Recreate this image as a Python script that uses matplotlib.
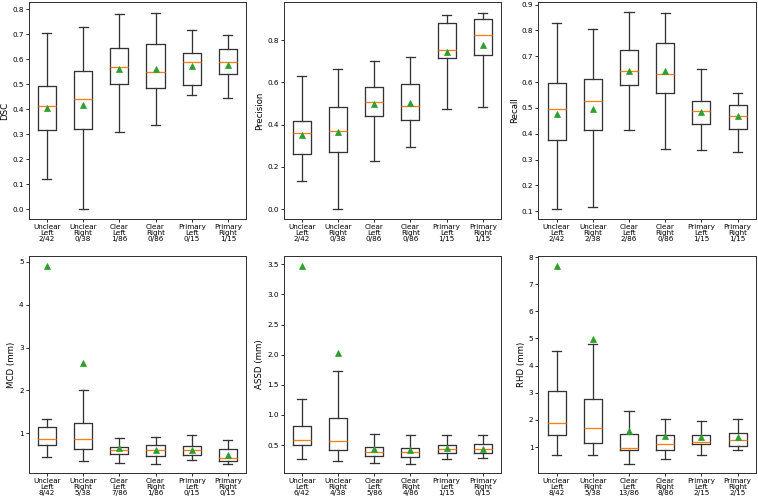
#!/usr/bin/env python3

import matplotlib
matplotlib.use('Agg')
import matplotlib.pyplot as plt

groups = ['Unclear\nLeft', 'Unclear\nRight', 'Clear\nLeft', 'Clear\nRight', 'Primary\nLeft', 'Primary\nRight']

# outlier counts shown under each group
dsc_counts  = ['2/42', '0/38', '1/86', '0/86', '0/15', '1/15']
prec_counts = ['2/42', '0/38', '0/86', '0/86', '1/15', '1/15']
rec_counts  = ['2/42', '2/38', '2/86', '0/86', '1/15', '1/15']
mcd_counts  = ['8/42', '5/38', '7/86', '1/86', '0/15', '0/15']
assd_counts = ['6/42', '4/38', '5/86', '4/86', '1/15', '0/15']
rhd_counts  = ['8/42', '5/38', '13/86', '8/86', '2/15', '2/15']

# per group: whisker low, q1, median, q3, whisker high, mean
dsc_lo   = [0.12, 0.00, 0.31, 0.338, 0.458, 0.445]
dsc_q1   = [0.318, 0.322, 0.50, 0.484, 0.497, 0.540]
dsc_med  = [0.415, 0.44, 0.568, 0.551, 0.591, 0.589]
dsc_q3   = [0.492, 0.553, 0.646, 0.663, 0.626, 0.643]
dsc_hi   = [0.707, 0.73, 0.78, 0.787, 0.718, 0.698]
dsc_mean = [0.405, 0.418, 0.563, 0.563, 0.574, 0.576]

prec_lo   = [0.133, 0.0, 0.227, 0.293, 0.473, 0.484]
prec_q1   = [0.263, 0.268, 0.44, 0.422, 0.715, 0.73]
prec_med  = [0.358, 0.37, 0.506, 0.49, 0.754, 0.824]
prec_q3   = [0.418, 0.482, 0.578, 0.594, 0.88, 0.90]
prec_hi   = [0.63, 0.664, 0.703, 0.718, 0.92, 0.93]
prec_mean = [0.352, 0.366, 0.499, 0.501, 0.745, 0.775]

rec_lo   = [0.11, 0.115, 0.414, 0.342, 0.336, 0.33]
rec_q1   = [0.375, 0.414, 0.59, 0.558, 0.436, 0.42]
rec_med  = [0.497, 0.527, 0.642, 0.633, 0.487, 0.469]
rec_q3   = [0.597, 0.612, 0.724, 0.75, 0.527, 0.513]
rec_hi   = [0.828, 0.806, 0.871, 0.869, 0.652, 0.558]
rec_mean = [0.478, 0.495, 0.644, 0.644, 0.483, 0.467]

mcd_lo   = [0.44, 0.35, 0.31, 0.29, 0.38, 0.27]
mcd_q1   = [0.73, 0.62, 0.52, 0.46, 0.49, 0.35]
mcd_med  = [0.86, 0.87, 0.60, 0.60, 0.60, 0.43]
mcd_q3   = [1.15, 1.23, 0.68, 0.72, 0.70, 0.62]
mcd_hi   = [1.33, 2.00, 0.88, 0.91, 0.95, 0.85]
mcd_mean = [4.90, 2.63, 0.66, 0.61, 0.60, 0.48]

assd_lo   = [0.26, 0.24, 0.20, 0.19, 0.27, 0.28]
assd_q1   = [0.50, 0.41, 0.32, 0.30, 0.37, 0.36]
assd_med  = [0.58, 0.57, 0.38, 0.39, 0.44, 0.44]
assd_q3   = [0.81, 0.95, 0.47, 0.45, 0.50, 0.52]
assd_hi   = [1.27, 1.73, 0.69, 0.67, 0.67, 0.67]
assd_mean = [3.48, 2.03, 0.43, 0.41, 0.45, 0.44]

rhd_lo   = [0.70, 0.70, 0.38, 0.55, 0.70, 0.88]
rhd_q1   = [1.43, 1.15, 0.88, 0.88, 1.10, 1.04]
rhd_med  = [1.89, 1.71, 0.97, 1.12, 1.18, 1.26]
rhd_q3   = [3.07, 2.77, 1.48, 1.43, 1.45, 1.50]
rhd_hi   = [4.55, 4.80, 2.33, 2.02, 1.96, 2.02]
rhd_mean = [7.68, 4.98, 1.60, 1.41, 1.37, 1.36]


def stats(lo, q1, med, q3, hi, mean):
    return [dict(whislo=a, q1=b, med=c, q3=d, whishi=e, mean=f, fliers=[])
            for a, b, c, d, e, f in zip(lo, q1, med, q3, hi, mean)]


def draw(ax, st, counts, ylabel, ylim, yticks):
    lw = 1.8
    ax.bxp(st, showmeans=True, showfliers=False,
           boxprops=dict(linewidth=lw, color='#333333'),
           whiskerprops=dict(linewidth=lw, color='#333333'),
           capprops=dict(linewidth=lw, color='#333333'),
           medianprops=dict(linewidth=lw, color='C1'),
           meanprops=dict(marker='^', markersize=7, markerfacecolor='C2', markeredgecolor='C2'))
    ax.set_xticks(range(1, 7))
    ax.set_xticklabels([g + '\n' + c for g, c in zip(groups, counts)], linespacing=1.0)
    ax.set_ylabel(ylabel, fontsize=12)
    ax.set_ylim(ylim)
    ax.set_yticks(yticks)
    ax.tick_params(width=1.4, color='#333333')
    for s in ax.spines.values():
        s.set_linewidth(1.4)
        s.set_color('#333333')


def main():
    # drawn at a low dpi so the default sizes come out as small as in the picture
    fig, axes = plt.subplots(2, 3, figsize=(758 / 52, 500 / 52), dpi=52)
    fig.subplots_adjust(left=0.038, right=0.997, top=0.996, bottom=0.054, wspace=0.173, hspace=0.17)

    draw(axes[0, 0], stats(dsc_lo, dsc_q1, dsc_med, dsc_q3, dsc_hi, dsc_mean),
         dsc_counts, 'DSC', (-0.04, 0.83), [0.0, 0.1, 0.2, 0.3, 0.4, 0.5, 0.6, 0.7, 0.8])
    draw(axes[0, 1], stats(prec_lo, prec_q1, prec_med, prec_q3, prec_hi, prec_mean),
         prec_counts, 'Precision', (-0.047, 0.98), [0.0, 0.2, 0.4, 0.6, 0.8])
    draw(axes[0, 2], stats(rec_lo, rec_q1, rec_med, rec_q3, rec_hi, rec_mean),
         rec_counts, 'Recall', (0.07, 0.91), [0.1, 0.2, 0.3, 0.4, 0.5, 0.6, 0.7, 0.8, 0.9])
    draw(axes[1, 0], stats(mcd_lo, mcd_q1, mcd_med, mcd_q3, mcd_hi, mcd_mean),
         mcd_counts, 'MCD (mm)', (0.07, 5.14), [1, 2, 3, 4, 5])
    draw(axes[1, 1], stats(assd_lo, assd_q1, assd_med, assd_q3, assd_hi, assd_mean),
         assd_counts, 'ASSD (mm)', (0.035, 3.64), [0.5, 1.0, 1.5, 2.0, 2.5, 3.0, 3.5])
    draw(axes[1, 2], stats(rhd_lo, rhd_q1, rhd_med, rhd_q3, rhd_hi, rhd_mean),
         rhd_counts, 'RHD (mm)', (0.045, 8.04), [1, 2, 3, 4, 5, 6, 7, 8])

    plt.savefig('out.png')


if __name__ == '__main__':
    main()
